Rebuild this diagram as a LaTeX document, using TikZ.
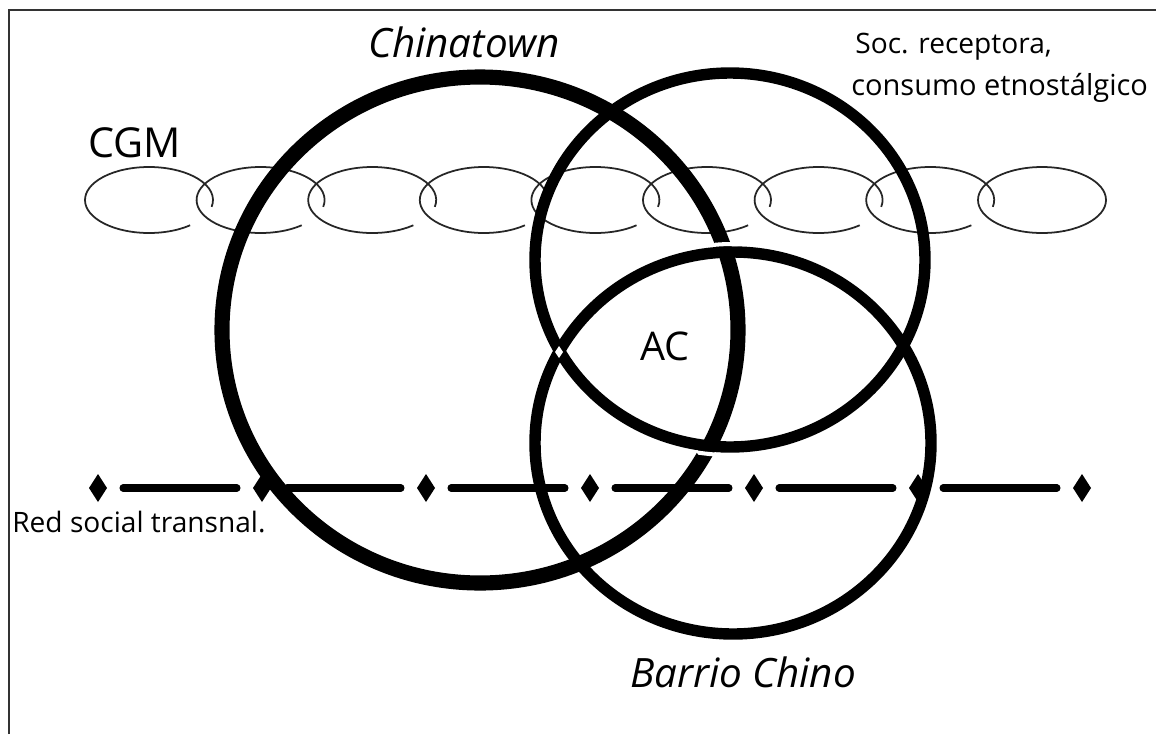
\documentclass[tikz,border=0pt]{standalone}
\usepackage{fontspec}
\setmainfont{Open Sans}
\tikzset{
  bigring/.style={line width=8.6pt},
  ring/.style={line width=6.5pt},
  link/.style={line width=1pt, black!85},
  rope/.style={line width=4pt, line cap=round},
  lab/.style={anchor=base west, inner sep=0pt},
}

\begin{document}
\begin{tikzpicture}[x=0.02cm, y=-0.02cm]
  \useasboundingbox (0,0) rectangle (1156,734);
  \fill[white] (0,0) rectangle (1156,734);
  \draw[line width=1.1pt, black!80] (9,734) -- (9,10) -- (1156,10);
  \foreach \i in {0,...,7}
    \draw[link] ({149+111.6*\i},200) ++(50:64 and 33)
      arc[start angle=50, end angle=372, x radius=64, y radius=33];
  \draw[link] (1042,200) ellipse[x radius=64, y radius=33];
  \def\yr{488}
  \foreach \x in {98,262,...,1082}
    \fill (\x,\yr-14) -- (\x+9,\yr) -- (\x,\yr+14) -- (\x-9,\yr) -- cycle;
  \foreach \x in {98,262,...,918}
    \draw[rope] (\x+25,\yr) -- (\x+139,\yr);
  \draw[bigring] (480,330) ellipse[x radius=258, y radius=253];
  \draw[ring] (730,260) ellipse[x radius=195, y radius=187];
  \draw[ring] (733,443) ellipse[x radius=198, y radius=191];
  \begin{scope}
    \clip (725,252) circle[radius=14];
    \draw[white, line width=2.3pt] (733,443) ellipse[x radius=206, y radius=199];
  \end{scope}
  \begin{scope}
    \clip (709,446) circle[radius=14];
    \draw[white, line width=2.3pt] (730,260) ellipse[x radius=203, y radius=195];
  \end{scope}
  \fill[white] (559,346) -- (563,352) -- (559,358) -- (555,352) -- cycle;
  \node[lab, font=\fontsize{23}{27}\selectfont\itshape] (chinatown) at (368,57) {Chinatown};
  \node[lab, font=\fontsize{23.5}{27}\selectfont] (cgm) at (88,157) {CGM};
  \node[lab, font=\fontsize{16}{20}\selectfont] (soc) at (855,53) {Soc. receptora,};
  \node[lab, font=\fontsize{16.5}{20}\selectfont] (consumo) at (851,95) {consumo etnostálgico};
  \node[lab, font=\fontsize{22.5}{26}\selectfont] (ac) at (640,360) {AC};
  \node[lab, font=\fontsize{16}{19}\selectfont] (red) at (12,532) {Red social transnal.};
  \node[lab, font=\fontsize{23}{27}\selectfont\itshape] (barrio) at (630,687) {Barrio Chino};
\end{tikzpicture}
\end{document}
